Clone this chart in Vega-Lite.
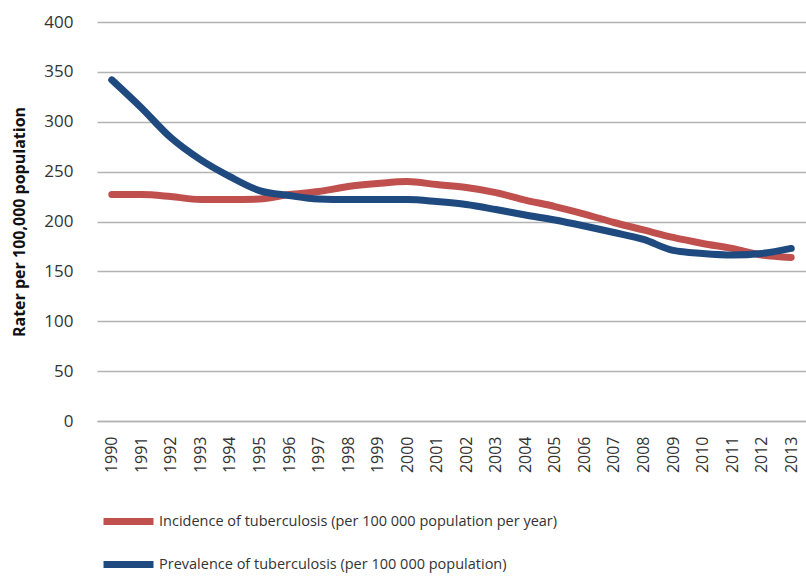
{
  "$schema": "https://vega.github.io/schema/vega-lite/v6.json",
  "autosize": "none",
  "width": 709,
  "height": 399,
  "padding": {"left": 97, "top": 22, "right": 0, "bottom": 155},
  "background": "white",
  "config": {"view": {"stroke": null}, "font": "Open Sans"},
  "data": {"values": [
    {"year": "1990", "series": "Incidence of tuberculosis (per 100 000 population per year)", "value": 227},
    {"year": "1991", "series": "Incidence of tuberculosis (per 100 000 population per year)", "value": 227},
    {"year": "1992", "series": "Incidence of tuberculosis (per 100 000 population per year)", "value": 225},
    {"year": "1993", "series": "Incidence of tuberculosis (per 100 000 population per year)", "value": 222},
    {"year": "1994", "series": "Incidence of tuberculosis (per 100 000 population per year)", "value": 222},
    {"year": "1995", "series": "Incidence of tuberculosis (per 100 000 population per year)", "value": 222.5},
    {"year": "1996", "series": "Incidence of tuberculosis (per 100 000 population per year)", "value": 227},
    {"year": "1997", "series": "Incidence of tuberculosis (per 100 000 population per year)", "value": 230},
    {"year": "1998", "series": "Incidence of tuberculosis (per 100 000 population per year)", "value": 235},
    {"year": "1999", "series": "Incidence of tuberculosis (per 100 000 population per year)", "value": 238},
    {"year": "2000", "series": "Incidence of tuberculosis (per 100 000 population per year)", "value": 240},
    {"year": "2001", "series": "Incidence of tuberculosis (per 100 000 population per year)", "value": 237},
    {"year": "2002", "series": "Incidence of tuberculosis (per 100 000 population per year)", "value": 234},
    {"year": "2003", "series": "Incidence of tuberculosis (per 100 000 population per year)", "value": 229},
    {"year": "2004", "series": "Incidence of tuberculosis (per 100 000 population per year)", "value": 221.5},
    {"year": "2005", "series": "Incidence of tuberculosis (per 100 000 population per year)", "value": 215},
    {"year": "2006", "series": "Incidence of tuberculosis (per 100 000 population per year)", "value": 207.5},
    {"year": "2007", "series": "Incidence of tuberculosis (per 100 000 population per year)", "value": 199},
    {"year": "2008", "series": "Incidence of tuberculosis (per 100 000 population per year)", "value": 191.5},
    {"year": "2009", "series": "Incidence of tuberculosis (per 100 000 population per year)", "value": 184},
    {"year": "2010", "series": "Incidence of tuberculosis (per 100 000 population per year)", "value": 178},
    {"year": "2011", "series": "Incidence of tuberculosis (per 100 000 population per year)", "value": 173},
    {"year": "2012", "series": "Incidence of tuberculosis (per 100 000 population per year)", "value": 166.5},
    {"year": "2013", "series": "Incidence of tuberculosis (per 100 000 population per year)", "value": 164},
    {"year": "1990", "series": "Prevalence of tuberculosis (per 100 000 population)", "value": 342},
    {"year": "1991", "series": "Prevalence of tuberculosis (per 100 000 population)", "value": 314},
    {"year": "1992", "series": "Prevalence of tuberculosis (per 100 000 population)", "value": 284},
    {"year": "1993", "series": "Prevalence of tuberculosis (per 100 000 population)", "value": 262},
    {"year": "1994", "series": "Prevalence of tuberculosis (per 100 000 population)", "value": 245},
    {"year": "1995", "series": "Prevalence of tuberculosis (per 100 000 population)", "value": 231},
    {"year": "1996", "series": "Prevalence of tuberculosis (per 100 000 population)", "value": 226},
    {"year": "1997", "series": "Prevalence of tuberculosis (per 100 000 population)", "value": 222.5},
    {"year": "1998", "series": "Prevalence of tuberculosis (per 100 000 population)", "value": 222},
    {"year": "1999", "series": "Prevalence of tuberculosis (per 100 000 population)", "value": 222},
    {"year": "2000", "series": "Prevalence of tuberculosis (per 100 000 population)", "value": 222},
    {"year": "2001", "series": "Prevalence of tuberculosis (per 100 000 population)", "value": 220},
    {"year": "2002", "series": "Prevalence of tuberculosis (per 100 000 population)", "value": 217},
    {"year": "2003", "series": "Prevalence of tuberculosis (per 100 000 population)", "value": 212},
    {"year": "2004", "series": "Prevalence of tuberculosis (per 100 000 population)", "value": 206.5},
    {"year": "2005", "series": "Prevalence of tuberculosis (per 100 000 population)", "value": 201.5},
    {"year": "2006", "series": "Prevalence of tuberculosis (per 100 000 population)", "value": 195.5},
    {"year": "2007", "series": "Prevalence of tuberculosis (per 100 000 population)", "value": 189},
    {"year": "2008", "series": "Prevalence of tuberculosis (per 100 000 population)", "value": 182},
    {"year": "2009", "series": "Prevalence of tuberculosis (per 100 000 population)", "value": 171},
    {"year": "2010", "series": "Prevalence of tuberculosis (per 100 000 population)", "value": 168},
    {"year": "2011", "series": "Prevalence of tuberculosis (per 100 000 population)", "value": 166.5},
    {"year": "2012", "series": "Prevalence of tuberculosis (per 100 000 population)", "value": 168},
    {"year": "2013", "series": "Prevalence of tuberculosis (per 100 000 population)", "value": 173}
  ]},
  "mark": {"type": "line", "interpolate": "monotone", "strokeWidth": 7, "strokeCap": "round", "strokeJoin": "round"},
  "encoding": {
    "x": {
      "field": "year", "type": "ordinal",
      "scale": {"type": "point", "padding": 0.5},
      "axis": {
        "title": null, "labelAngle": -90, "labelFontSize": 16, "labelColor": "#333333",
        "labelPadding": 15, "ticks": false, "domain": true, "domainColor": "#b3b3b3", "domainWidth": 1.5,
        "grid": false, "labelFont": "Open Sans"
      }
    },
    "y": {
      "field": "value", "type": "quantitative",
      "scale": {"domain": [0, 400], "nice": false, "zero": true},
      "axis": {
        "values": [0, 50, 100, 150, 200, 250, 300, 350, 400],
        "title": "Rater per 100,000 population", "titleFontSize": 16, "titleFontWeight": "bold",
        "titleColor": "#111111", "titlePadding": 16, "titleFont": "Open Sans",
        "labelFontSize": 17, "labelColor": "#333333", "labelPadding": 24, "ticks": false,
        "domain": false, "grid": true, "gridColor": "#b3b3b3", "gridWidth": 1.5, "labelFont": "Open Sans"
      }
    },
    "color": {
      "field": "series", "type": "nominal",
      "scale": {
        "domain": ["Incidence of tuberculosis (per 100 000 population per year)", "Prevalence of tuberculosis (per 100 000 population)"],
        "range": ["#c0504d", "#1f4a80"]
      },
      "legend": {
        "title": null, "orient": "none", "legendX": 3, "legendY": 471, "direction": "vertical",
        "symbolType": "stroke", "symbolSize": 2500, "symbolStrokeWidth": 7,
        "labelFontSize": 14.5, "labelColor": "#333333", "labelFont": "Open Sans",
        "rowPadding": -9, "labelOffset": 2, "labelLimit": 700
      }
    }
  }
}
